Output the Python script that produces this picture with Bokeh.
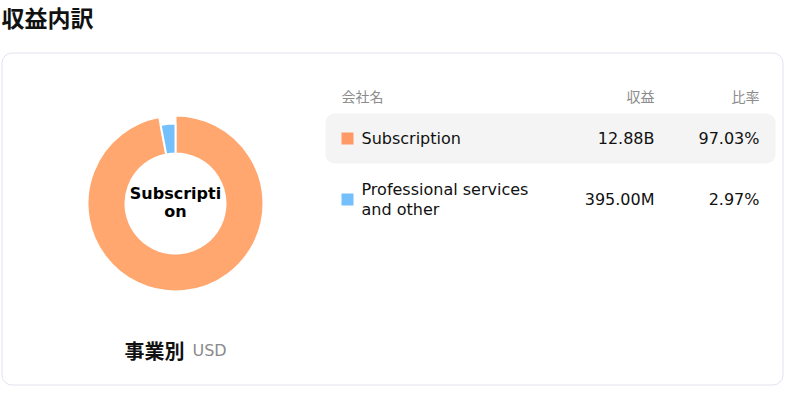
import numpy as np
from bokeh.plotting import figure
from bokeh.models import Range1d, ColumnDataSource
from bokeh.core.properties import value
from bokeh.embed import file_html
from bokeh.resources import INLINE

# ---------------- data ----------------
title_text = "収益内訳"
segment_label = "事業別"
currency = "USD"
header_labels = ["会社名", "収益", "比率"]
categories = ["Subscription", "Professional services\nand other"]
revenues = [12.88e9, 395.00e6]
revenue_labels = ["12.88B", "395.00M"]
share_labels = ["97.03%", "2.97%"]

# ---------------- styles ----------------
slice_colors = ["#FFA76F", "#74C0FC"]
legend_colors = ["#FF9A66", "#74C0FC"]
outer_radii = [88, 80]
inner_radius = 50
LAT = "DejaVu Sans"
CJK = "Noto Sans CJK JP"

W, H = 784, 386
def Y(ry):
    # reference pixel row -> data y
    return 402 - ry

p = figure(width=W, height=H, output_backend="svg", toolbar_location=None,
           x_range=Range1d(0, W), y_range=Range1d(402 - H, 402),
           min_border=0, outline_line_color=None, background_fill_color="white",
           border_fill_color="white")
p.axis.visible = False
p.grid.visible = False

# card
p.quad(left=[1.5], right=[W - 1.5], top=[Y(52.5)], bottom=[Y(H - 1.5)],
       fill_color="white", line_color="#E3E1EE", line_width=1, border_radius=10)

# title
p.text(x=[1], y=[Y(16)], text=[title_text], text_font=value(CJK),
       text_font_style="bold", text_font_size="23px", text_color="#111111",
       text_baseline="middle", text_align="left")

# donut
vals = np.array(revenues, dtype=float)
frac = vals / vals.sum()
cum = np.concatenate([[0], np.cumsum(frac)])
starts = np.pi / 2 - 2 * np.pi * cum[:-1]
ends = np.pi / 2 - 2 * np.pi * cum[1:]
src = ColumnDataSource(dict(x=[175] * len(vals), y=[Y(203)] * len(vals),
                            start=starts, end=ends, outer=outer_radii,
                            inner=[inner_radius] * len(vals), color=slice_colors))
p.annular_wedge(x="x", y="y", inner_radius="inner", outer_radius="outer",
                inner_radius_units="screen", outer_radius_units="screen",
                start_angle="start", end_angle="end", direction="clock",
                fill_color="color", line_color="white", line_width=2, source=src)

center_name = categories[0]
center_lines = [center_name[i:i + 10] for i in range(0, len(center_name), 10)]
for k, line in enumerate(center_lines):
    p.text(x=[175], y=[Y(193 + 17.5 * k)], text=[line], text_font=value(LAT),
           text_font_style="bold", text_font_size="16px", text_color="#000000",
           text_align="center", text_baseline="middle")

# caption under donut
p.text(x=[124], y=[Y(350)], text=[segment_label], text_font=value(CJK),
       text_font_style="bold", text_font_size="20px", text_color="#111111",
       text_align="left", text_baseline="middle")
p.text(x=[192], y=[Y(350)], text=[currency], text_font=value(LAT),
       text_font_size="16px", text_color="#8A8A8A",
       text_align="left", text_baseline="middle")

# table header
hdr_x = [341, 654, 759]
hdr_align = ["left", "right", "right"]
for lab, hx, al in zip(header_labels, hdr_x, hdr_align):
    p.text(x=[hx], y=[Y(95)], text=[lab], text_font=value(CJK),
           text_font_size="14px", text_color="#8C8C8C",
           text_align=al, text_baseline="middle")

# highlighted first row
p.quad(left=[325], right=[775], top=[Y(113)], bottom=[Y(163)],
       fill_color="#F4F4F4", line_color=None, border_radius=9)

row_y = [138, 199]
p.scatter(x=[347] * len(categories), y=[Y(r) for r in row_y], marker="square",
          size=12, fill_color=legend_colors, line_color=None)

for cat, rv, sh, ry in zip(categories, revenue_labels, share_labels, row_y):
    lines = cat.split("\n")
    n = len(lines)
    for k, line in enumerate(lines):
        ly = ry + (k - (n - 1) / 2) * 19.5
        p.text(x=[361], y=[Y(ly)], text=[line], text_font=value(LAT),
               text_font_size="16px", text_color="#111111",
               text_align="left", text_baseline="middle")
    p.text(x=[654], y=[Y(ry)], text=[rv], text_font=value(LAT),
           text_font_size="16px", text_color="#111111",
           text_align="right", text_baseline="middle")
    p.text(x=[759], y=[Y(ry)], text=[sh], text_font=value(LAT),
           text_font_size="16px", text_color="#111111",
           text_align="right", text_baseline="middle")

open("out.html", "w").write(file_html(p, INLINE))
